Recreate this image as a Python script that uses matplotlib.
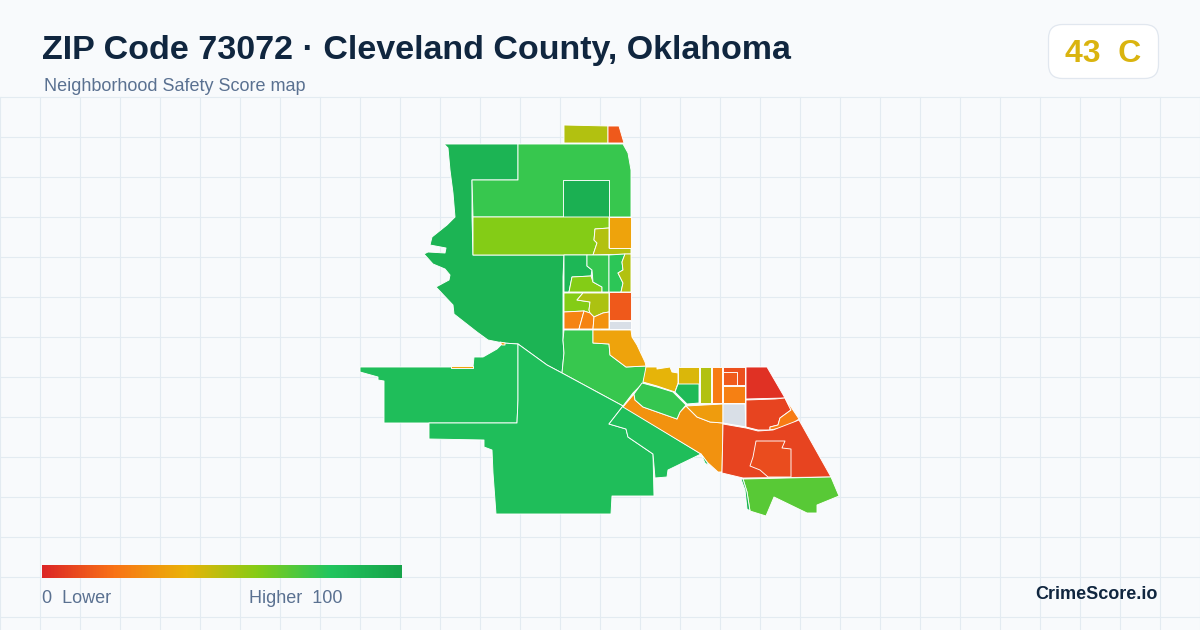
import matplotlib
matplotlib.use("Agg")
import matplotlib.pyplot as plt
import numpy as np
from matplotlib.colors import LinearSegmentedColormap, Normalize
from matplotlib.patches import Polygon, FancyBboxPatch

plt.rcParams['font.family'] = ['Liberation Sans', 'DejaVu Sans']

TITLE = "ZIP Code 73072 · Cleveland County, Oklahoma"
SUBTITLE = "Neighborhood Safety Score map"
SCORE_TEXT = "43  C"
BRAND = "CrimeScore.io"
LEGEND_LOW = "0  Lower"
LEGEND_HIGH = "Higher  100"

scale_stops = [0.0, 0.2, 0.4, 0.6, 0.8, 1.0]
scale_colors = ["#dc2626", "#f97316", "#eab308", "#84cc16", "#22c55e", "#16a34a"]
NO_DATA = "#d9dfe7"

# Tract outlines and scores (screen coordinates)
tracts = [
 ("nw", 90, [(444,144),(518,144),(518,180),(472,180),(472,217),(473,255),(564,255),(563,277),(563,340),(564,353),(562,373),(547,365),(518,344),(503,343),(488,340),(477,332),(454,314),(453,305),(436,287),(449,280),(450,275),(445,269),(433,264),(424,254),(428,252),(445,253),(446,248),(430,245),(432,237),(447,225),(455,217),(453,193),(450,170),(448,148)]),
 ("n_green", 75.5, [(518,144),(623,144),(628,153),(631,170),(631,217),(473,217),(472,180),(518,180)]),
 ("n_square", 92, [(563,180),(609,180),(609,217),(563,217)]),
 ("lime_rect", 60, [(473,217),(609,217),(609,228),(595,229),(594,240),(597,243),(593,255),(473,255)]),
 ("olive_notch", 51, [(609,228),(609,248),(631,248),(631,254),(593,255),(597,243),(594,240),(595,229)]),
 ("amber_rect", 35, [(609,217),(631,217),(631,248),(609,248)]),
 ("top_olive", 51, [(564,125),(608,126),(608,143),(564,143)]),
 ("top_red", 13.5, [(608,126),(619,126),(624,143),(608,143)]),
 ("strip_dark", 88, [(564,255),(587,255),(587,266),(592,270),(591,276),(572,277),(569,292),(564,292)]),
 ("strip_lime", 60, [(569,292),(572,277),(591,276),(593,282),(602,287),(602,292)]),
 ("strip_mid", 76, [(587,255),(609,255),(609,292),(602,292),(602,287),(593,282),(592,270),(587,266)]),
 ("strip_green", 78, [(609,255),(625,254),(622,262),(623,270),(618,273),(623,283),(621,292),(609,292)]),
 ("strip_olive", 51, [(625,254),(631,254),(631,292),(621,292),(623,283),(618,273),(623,270),(622,262)]),
 ("row_lime", 60, [(564,293),(583,293),(577,300),(590,302),(589,310),(590,313),(584,311),(564,312)]),
 ("row_olive", 52, [(583,293),(609,293),(609,312),(603,313),(594,317),(590,313),(589,310),(590,302),(577,300)]),
 ("row_orange1", 25, [(564,312),(584,311),(579,329),(564,329)]),
 ("row_orange2", 25, [(584,311),(590,313),(594,317),(593,329),(579,329)]),
 ("row_orange3", 30, [(594,317),(603,313),(609,312),(609,329),(593,329)]),
 ("row_red", 13.5, [(609,292),(631,292),(631,320),(609,320)]),
 ("row_none", None, [(609,321),(631,321),(631,329),(609,329)]),
 ("mid_green", 75.5, [(564,330),(593,330),(593,343),(609,344),(610,355),(626,367),(646,366),(646,372),(643,383),(633,393),(623,406),(562,373),(564,353),(563,340)]),
 ("mid_amber", 35, [(593,330),(631,330),(632,337),(637,345),(645,362),(646,366),(626,367),(610,355),(609,344),(593,343)]),
 ("west", 84, [(360,367),(473,367),(474,357),(483,357),(497,349),(503,343),(518,344),(518,357),(518,400),(517,423),(384,423),(384,381),(378,380),(378,377),(360,372)]),
 ("south", 84, [(518,344),(547,365),(562,373),(623,406),(609,424),(626,429),(628,437),(653,454),(654,496),(612,496),(611,514),(496,514),(493,473),(492,450),(484,447),(484,440),(429,439),(429,423),(517,423),(518,400),(518,357)]),
 ("south_east", 84, [(623,406),(609,424),(626,429),(628,437),(653,454),(655,478),(667,477),(668,470),(701,454)]),
 ("orange_band", 30, [(623,407),(634,394),(635,400),(643,407),(660,413),(677,419),(680,412),(686,406),(697,417),(710,422),(723,423),(722,472),(718,472),(707,462),(701,454)]),
 ("orange_wedge", 33, [(686,406),(723,404),(723,423),(710,422),(697,417)]),
 ("blob_green", 76, [(634,394),(642,383),(657,387),(673,392),(686,405),(680,412),(677,419),(660,413),(643,407),(635,400)]),
 ("yellow_a", 41, [(643,382),(646,367),(657,367),(657,369),(670,367),(672,372),(678,373),(678,383),(675,392),(657,386)]),
 ("yellow_b", 43, [(678,367),(699,367),(699,384),(678,384)]),
 ("block_dark", 86, [(678,384),(699,384),(699,403),(687,404),(675,392)]),
 ("block_olive", 51, [(700,367),(711,367),(711,403),(700,403)]),
 ("block_orange", 23, [(712,367),(722,367),(722,403),(712,403)]),
 ("ne_red", 11, [(723,367),(745,367),(745,385),(723,385)]),
 ("ne_inner", 14, [(723,372),(737,372),(737,385),(723,385)]),
 ("ne_orange", 24, [(723,386),(745,386),(745,403),(723,403)]),
 ("ne_none", None, [(723,404),(745,404),(746,427),(723,423)]),
 ("ne_corner", 3, [(746,367),(767,367),(785,398),(746,399)]),
 ("e_red", 8, [(746,400),(775,399),(785,398),(791,410),(780,418),(778,425),(770,427),(770,430),(758,430),(746,427)]),
 ("e_orange", 23, [(785,398),(799,419),(787,427),(770,430),(770,427),(778,425),(780,418),(791,410)]),
 ("se_red", 8, [(723,424),(746,428),(758,431),(773,430),(799,420),(831,477),(743,478),(722,473)]),
 ("se_inner", 10, [(756,441),(785,441),(782,448),(791,449),(791,477),(768,477),(760,470),(750,466),(753,457)]),
 ("se_green", 69, [(743,479),(831,477),(839,496),(817,505),(817,513),(807,513),(774,497),(766,516),(750,511),(747,492)]),
 ("se_sliver", 88, [(741,479),(743,479),(747,492),(750,511),(747,509),(745,490)]),
 ("band_sliver", 84, [(701,454),(707,462),(709,466),(705,463)]),
 ("west_sliver", 35, [(451,366),(473,366),(473,368),(451,368)]),
 ("north_sliver", 35, [(500,342),(505,343),(505,345),(502,345)]),
]

W, H, DPI = 1200, 630, 100
BG = "#f8fafc"
fig = plt.figure(figsize=(W/DPI, H/DPI), dpi=DPI, facecolor=BG)
ax = fig.add_axes([0, 0, 1, 1])
ax.set_xlim(0, W); ax.set_ylim(H, 0); ax.axis("off")

cmap = LinearSegmentedColormap.from_list("safety", list(zip(scale_stops, scale_colors)))
norm = Normalize(0, 100)

for gx in range(0, W+1, 40):
    ax.plot([gx, gx], [97, H], color="#e3ebf1", lw=0.8, zorder=1)
for gy in range(97, H, 40):
    ax.plot([0, W], [gy, gy], color="#e3ebf1", lw=0.8, zorder=1)

for name, score, pts in tracts:
    fc = NO_DATA if score is None else cmap(norm(score))
    ax.add_patch(Polygon(pts, closed=True, facecolor=fc, edgecolor="white",
                         linewidth=0.65, joinstyle="round", zorder=3))

# Legend gradient
grad = np.linspace(0, 1, 360).reshape(1, -1)
ax.imshow(grad, cmap=cmap, extent=(42, 402, 578, 565), aspect="auto", zorder=4)
ax.set_xlim(0, W); ax.set_ylim(H, 0)

ax.text(42, 59, TITLE, fontsize=24.45, fontweight="bold", color="#10263f", va="baseline", zorder=5)
ax.text(44, 91, SUBTITLE, fontsize=13, color="#5a7191", va="baseline", zorder=5)
ax.text(42, 603, LEGEND_LOW, fontsize=13, color="#5a7191", va="baseline", zorder=5)
ax.text(249, 603, LEGEND_HIGH, fontsize=13, color="#5a7191", va="baseline", zorder=5)
ax.text(1158, 599, BRAND, fontsize=13, fontweight="bold", color="#10263f", ha="right", va="baseline", zorder=5)

ax.add_patch(FancyBboxPatch((1048.5, 24.5), 110, 54, boxstyle="round,pad=0,rounding_size=14",
             facecolor="white", edgecolor="#e1e7ef", linewidth=0.9, zorder=4))
ax.text(1065, 61.5, SCORE_TEXT, fontsize=23, fontweight="bold", color="#dab40f", va="baseline", zorder=5)

fig.savefig("out.png", dpi=DPI, facecolor=BG)
